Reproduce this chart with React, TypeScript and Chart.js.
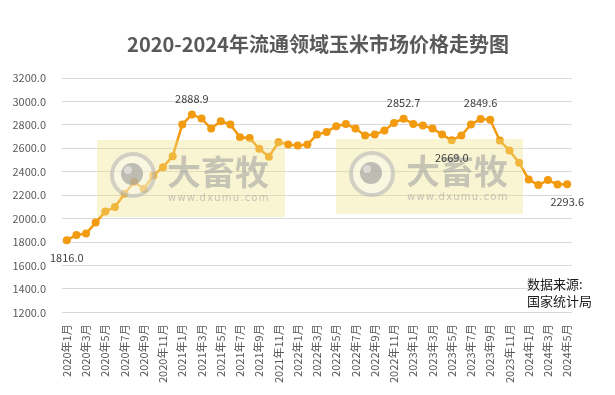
import React, { useEffect, useRef } from "react";
import { Chart, registerables } from "chart.js";

Chart.register(...registerables);

const years = [2020, 2021, 2022, 2023, 2024];
const categories: string[] = [];
years.forEach((y) => {
  const n = y === 2024 ? 5 : 12;
  for (let m = 1; m <= n; m++) categories.push(`${y}年${m}月`);
});

const prices2020 = [1816.0, 1860, 1872, 1966, 2060, 2099, 2213, 2312, 2255, 2369, 2439, 2533];
const prices2021 = [2803, 2888.9, 2854, 2769, 2831, 2803, 2694, 2689, 2596, 2528, 2652, 2632];
const prices2022 = [2624, 2632, 2717, 2740, 2788, 2808, 2769, 2709, 2717, 2751, 2817, 2852.7];
const prices2023 = [2808, 2794, 2769, 2717, 2669.0, 2709, 2803, 2849.6, 2843, 2666, 2581, 2477];
const prices2024 = [2334, 2286, 2329, 2292, 2293.6];
const prices = [...prices2020, ...prices2021, ...prices2022, ...prices2023, ...prices2024];

// indices of labelled points and whether the label is above
const labelIdx = [0, 13, 35, 40, 43, 52];
const labelAbove = [false, true, true, false, true, false];

const titleText = "2020-2024年流通领域玉米市场价格走势图";
const sourceLines = ["数据来源:", "国家统计局"];

const FONT = "'Noto Sans CJK SC', 'Noto Sans', sans-serif";

function drawWatermark(ctx: CanvasRenderingContext2D, x: number, y: number, w: number, h: number) {
  ctx.save();
  ctx.fillStyle = "rgba(240, 228, 140, 0.38)";
  ctx.fillRect(x, y, w, h);
  const cx = x + 36;
  const cy = y + 35;
  ctx.globalAlpha = 0.55;
  ctx.beginPath();
  ctx.arc(cx, cy, 21, 0, Math.PI * 2);
  ctx.fillStyle = "rgba(250,250,245,0.7)";
  ctx.fill();
  ctx.lineWidth = 4;
  ctx.strokeStyle = "#b0b0b0";
  ctx.stroke();
  ctx.beginPath();
  ctx.arc(cx - 1, cy - 1, 11, 0, Math.PI * 2);
  ctx.fillStyle = "#8e8e8e";
  ctx.fill();
  ctx.beginPath();
  ctx.arc(cx - 5, cy - 5, 4, 0, Math.PI * 2);
  ctx.fillStyle = "#f4f4f4";
  ctx.fill();
  ctx.fillStyle = "#9a9a9a";
  ctx.font = `bold 34px ${FONT}`;
  ctx.textBaseline = "middle";
  ctx.textAlign = "left";
  ctx.fillText("大畜牧", x + 70, y + 32);
  ctx.font = `10px 'DejaVu Sans', sans-serif`;
  (ctx as any).letterSpacing = "1.2px";
  ctx.fillText("www.dxumu.com", x + 71, y + 58);
  ctx.restore();
}

const overlayPlugin = {
  id: "overlay",
  afterDatasetsDraw(chart: any) {
    const ctx: CanvasRenderingContext2D = chart.ctx;
    const meta = chart.getDatasetMeta(0);
    const ca = chart.chartArea;
    // title
    ctx.save();
    ctx.font = `bold 20px ${FONT}`;
    ctx.fillStyle = "#595959";
    ctx.textAlign = "center";
    ctx.textBaseline = "middle";
    ctx.fillText(titleText, (ca.left + ca.right) / 2 + 1, ca.top - 34);
    ctx.restore();
    // watermarks
    drawWatermark(ctx, ca.left + 35, ca.top + 62, 188, 77);
    drawWatermark(ctx, ca.left + 274, ca.top + 61, 187, 75);
    // data labels
    ctx.save();
    ctx.font = `11px ${FONT}`;
    ctx.fillStyle = "#404040";
    ctx.textAlign = "center";
    ctx.textBaseline = "middle";
    labelIdx.forEach((i, k) => {
      const el = meta.data[i];
      const dy = labelAbove[k] ? -16 : 18;
      ctx.fillText(prices[i].toFixed(1), el.x, el.y + dy);
    });
    // source
    ctx.font = `13px ${FONT}`;
    ctx.fillStyle = "#1a1a1a";
    ctx.textAlign = "left";
    ctx.fillText(sourceLines[0], ca.left + 465, ca.top + 206);
    ctx.fillText(sourceLines[1], ca.left + 465, ca.top + 223);
    ctx.restore();
  },
};

export default function App() {
  const ref = useRef<HTMLCanvasElement>(null);
  useEffect(() => {
    document.body.style.margin = "0";
    const chart = new Chart(ref.current!, {
      type: "line",
      data: {
        labels: categories,
        datasets: [
          {
            data: prices,
            borderColor: "#F29A10",
            backgroundColor: "#F29A10",
            borderWidth: 2.5,
            pointRadius: 4,
            pointBackgroundColor: "#F29A10",
            pointBorderColor: "#F29A10",
            pointBorderWidth: 0,
            tension: 0,
          },
        ],
      },
      options: {
        animation: false,
        responsive: false,
        layout: { padding: { left: 0, right: 43, top: 78, bottom: 8 } },
        plugins: {
          legend: { display: false },
          tooltip: { enabled: false },
          title: { display: false },
        },
        scales: {
          x: {
            offset: true,
            grid: { display: false },
            border: { display: false },
            ticks: {
              autoSkip: false,
              minRotation: 90,
              maxRotation: 90,
              color: "#595959",
              font: { family: FONT, size: 11 },
              padding: 4,
              callback: (_v: any, i: number) => (i % 2 === 0 ? categories[i] : ""),
            },
          },
          y: {
            min: 1200,
            max: 3200,
            grid: { color: "#d9d9d9", drawTicks: false, lineWidth: 1 },
            border: { display: false },
            ticks: {
              stepSize: 200,
              color: "#595959",
              font: { family: FONT, size: 11 },
              padding: 16,
              callback: (v: any) => Number(v).toFixed(1),
            },
            afterFit: (s: any) => {
              s.width = 62;
            },
          },
        },
      },
      plugins: [overlayPlugin],
    });
    return () => chart.destroy();
  }, []);
  return <canvas ref={ref} width={615} height={395} style={{ display: "block" }} />;
}
